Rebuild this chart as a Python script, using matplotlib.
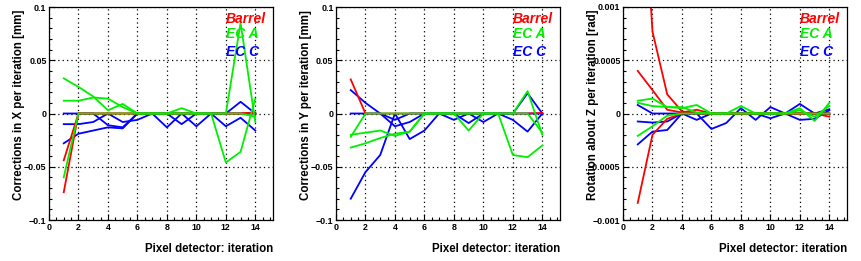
import matplotlib
matplotlib.use("Agg")
import matplotlib.pyplot as plt
import numpy as np
from matplotlib.ticker import MultipleLocator, FuncFormatter

plt.rcParams['font.family'] = ['Liberation Sans', 'DejaVu Sans']

iteration = np.arange(1, 15)

# --- Corrections in X [mm] ---
x_barrel = [
    [-0.044, 0, 0, 0, 0, 0, 0, 0, 0, 0, 0, 0, 0, 0.001],
    [-0.074, 0, 0, 0, 0, 0, 0, 0, 0, 0, 0, 0, 0, 0],
]
x_eca = [
    [0.033, 0.025, 0.016, 0.003, 0.009, 0, 0, 0, 0.005, 0, 0, 0, 0.085, -0.008],
    [0.012, 0.012, 0.015, 0.014, 0.006, 0, 0, 0, 0, 0, 0, -0.046, -0.036, 0.014],
    [-0.060, 0, 0, 0, 0, 0, 0, 0, 0, 0, 0, 0, 0, -0.003],
]
x_ecc = [
    [0, 0, 0, -0.011, -0.013, 0, 0, -0.013, 0, -0.012, 0, -0.012, -0.004, -0.016],
    [-0.010, -0.010, -0.008, 0, -0.008, -0.006, 0, 0, -0.010, 0, 0, 0, 0.011, 0],
    [-0.028, -0.019, -0.016, -0.013, -0.014, 0, 0, 0, 0, 0, 0, 0, 0, 0],
]

# --- Corrections in Y [mm] ---
y_barrel = [
    [0.032, 0, 0, 0, 0, 0, 0, 0, 0, 0, 0, 0, 0, 0.0005],
]
y_eca = [
    [-0.020, -0.018, -0.016, -0.021, -0.017, 0, 0, 0, -0.016, 0, 0, 0, 0.021, -0.020],
    [-0.032, -0.028, -0.023, -0.019, -0.017, 0, 0, 0, 0, 0, 0, -0.039, -0.041, -0.030],
    [-0.022, 0, 0, 0, 0, 0, 0, 0, 0, 0, 0, 0, 0, -0.018],
]
y_ecc = [
    [0.022, 0.010, 0, -0.012, -0.008, 0, 0, 0, -0.009, 0, 0, 0, 0.019, 0],
    [-0.080, -0.055, -0.039, 0, -0.024, -0.016, 0, -0.006, 0, -0.008, 0, -0.006, -0.017, 0],
    [0, 0, 0, -0.006, 0, 0, 0, 0, 0, 0, 0, 0, 0, 0],
]

# --- Rotation about Z [rad] ---
z_barrel = [
    [0.003, 0.00077, 0.00018, 0.00002, 0, 0, 0, 0, 0, 0, 0, 0, 0, 0],
    [0.0004, 0.00022, 0.000035, 0.00001, 0.000035, 0, 0, 0, 0, 0, 0, 0, 0, -0.00003],
    [-0.00084, -0.0002, -0.00005, 0, 0, 0, 0, 0, 0, 0, 0, 0, 0, 0],
]
z_eca = [
    [0.00012, 0.00014, 0.00006, 0.00005, 0.00008, 0, 0, 0.00007, 0, 0, 0, 0.00005, -0.00007, 0.0001],
    [0.0001, 0.00007, 0.00006, 0.00006, 0.00001, 0, 0, 0, 0, 0, 0, 0.00003, -0.00003, 0.00007],
    [-0.00021, -0.00012, -0.00002, 0, 0, 0, 0, 0, 0, 0, 0, 0, 0, 0],
]
z_ecc = [
    [0.00008, 0, 0, 0, 0, 0, 0, 0, 0, 0, 0, 0, 0, 0],
    [-0.000075, -0.000085, -0.000075, 0, -0.00006, 0, 0, 0, 0, -0.000045, 0, -0.00006, -0.00005, 0.00003],
    [-0.00029, -0.00017, -0.000155, 0, 0, -0.000145, -0.00009, 0.00005, -0.00006, 0.00006, 0, 0.00009, 0, 0.00004],
]

panels = [
    ("Corrections in X per iteration [mm]", 0.1, 0.01, x_barrel, x_eca, x_ecc),
    ("Corrections in Y per iteration [mm]", 0.1, 0.01, y_barrel, y_eca, y_ecc),
    ("Rotation about Z per iteration [rad]", 0.001, 0.0001, z_barrel, z_eca, z_ecc),
]

col_barrel = '#ff0000'
col_eca = '#00ee00'
col_ecc = '#0000ff'

W, H = 861, 261
fig = plt.figure(figsize=(W / 100, H / 100), dpi=100)

lefts = [49, 336, 623]
ax_w, ax_top, ax_bot = 224, 7, 220


def fmt(v, pos):
    if abs(v) < 1e-12:
        return "0"
    return ("%g" % v).replace("-", "\u2212")


for left, (ylab, ymax, yminor, barrel, eca, ecc) in zip(lefts, panels):
    ax = fig.add_axes([left / W, (H - ax_bot) / H, ax_w / W, (ax_bot - ax_top) / H])

    for ys in ecc:
        ax.plot(iteration, ys, color=col_ecc, lw=1.3)
    for ys in barrel:
        ax.plot(iteration, ys, color=col_barrel, lw=1.3)
    for ys in eca:
        ax.plot(iteration, ys, color=col_eca, lw=1.3)

    ax.set_xlim(0, 15.2)
    ax.set_ylim(-ymax, ymax)
    ax.xaxis.set_major_locator(MultipleLocator(2))
    ax.xaxis.set_minor_locator(MultipleLocator(0.5))
    ax.yaxis.set_major_locator(MultipleLocator(ymax / 2))
    ax.yaxis.set_minor_locator(MultipleLocator(yminor))
    ax.yaxis.set_major_formatter(FuncFormatter(fmt))
    ax.xaxis.set_major_formatter(FuncFormatter(fmt))

    ax.tick_params(which='both', direction='in', top=False, right=False,
                   labelsize=6.4, width=0.8, pad=1.8)
    ax.tick_params(which='major', length=4)
    ax.tick_params(which='minor', length=2)
    for lab in ax.get_xticklabels() + ax.get_yticklabels():
        lab.set_fontweight('bold')

    ax.grid(True, which='major', color='black', linestyle=(0, (1, 2.5)), linewidth=0.9)
    for sp in ax.spines.values():
        sp.set_linewidth(0.9)

    ax.text(-30 / ax_w, (ax_bot - 10) / (ax_bot - ax_top), ylab, transform=ax.transAxes,
            rotation=90, ha='center', va='top', fontsize=8.3, fontweight='bold')
    ax.text(1.0, (ax_bot - 252.5) / (ax_bot - ax_top), "Pixel detector: iteration",
            transform=ax.transAxes, ha='right', va='baseline', fontsize=8.3, fontweight='bold')

    for name, col, base in [("Barrel", col_barrel, 22.7), ("EC A", col_eca, 37.7), ("EC C", col_ecc, 56)]:
        ax.text(177 / ax_w, (ax_bot - base) / (ax_bot - ax_top), name, transform=ax.transAxes,
                ha='left', va='baseline', color=col, fontsize=10,
                fontweight='bold', fontstyle='italic')

fig.savefig("out.png", dpi=100)
